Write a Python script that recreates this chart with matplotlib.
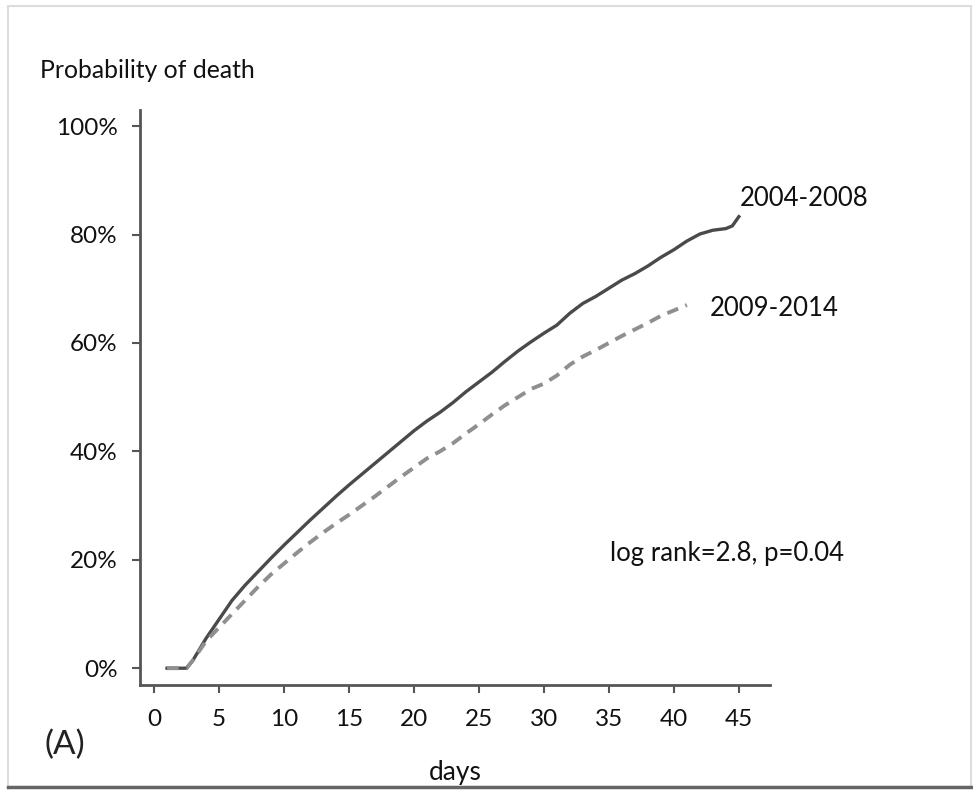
import matplotlib.pyplot as plt
from matplotlib.patches import Rectangle
from matplotlib.ticker import FuncFormatter

plt.rcParams['font.family'] = ['Lato', 'DejaVu Sans']

# Kaplan-Meier style cumulative probability of death (%)
days_0408 = [1, 2.5, 3, 4, 5, 6, 7, 8, 9, 10, 11, 12, 13, 14, 15, 16, 17, 18, 19, 20,
             21, 22, 23, 24, 25, 26, 27, 28, 29, 30, 31, 32, 33, 34, 35, 36, 37, 38,
             39, 40, 41, 42, 43, 44, 44.5, 45]
prob_0408 = [0, 0, 1.5, 5.5, 9, 12.5, 15.3, 17.8, 20.3, 22.7, 25, 27.3, 29.5, 31.7, 33.8,
             35.8, 37.8, 39.8, 41.8, 43.8, 45.6, 47.2, 49, 51, 52.8, 54.6, 56.6, 58.5,
             60.2, 61.8, 63.3, 65.5, 67.3, 68.6, 70.1, 71.6, 72.8, 74.2, 75.8, 77.2,
             78.8, 80.1, 80.8, 81.1, 81.6, 83.3]

days_0914 = [1, 2.5, 3, 4, 5, 6, 7, 8, 9, 10, 11, 12, 13, 14, 15, 16, 17, 18, 19, 20,
             21, 22, 23, 24, 25, 26, 27, 28, 29, 30, 31, 32, 33, 34, 35, 36, 37, 38,
             39, 40, 41]
prob_0914 = [0, 0, 1.5, 5, 7.5, 10, 12.5, 15, 17.3, 19.3, 21.3, 23.2, 25, 26.7, 28.3,
             30, 31.7, 33.5, 35.3, 37, 38.7, 40, 41.5, 43.3, 45, 46.8, 48.5, 50, 51.5,
             52.5, 54, 56, 57.5, 58.7, 60, 61.3, 62.5, 63.7, 65, 66, 67]

x_ticks = [0, 5, 10, 15, 20, 25, 30, 35, 40, 45]
y_ticks = [0, 20, 40, 60, 80, 100]

fig = plt.figure(figsize=(9.73, 7.90), dpi=100)
ax = fig.add_axes([0.1439, 0.1329, 0.6475, 0.728])

ax.plot(days_0408, prob_0408, color='#4a4a4a', lw=2.4)
ax.plot(days_0914, prob_0914, color='#8f8f8f', lw=2.8, dashes=(3, 2))

ax.set_xlim(-1.08, 47.4)
ax.set_ylim(-3.1, 103)
ax.set_xticks(x_ticks)
ax.set_yticks(y_ticks)
ax.yaxis.set_major_formatter(FuncFormatter(lambda v, p: f'{v:.0f}%'))

for s in ['top', 'right']:
    ax.spines[s].set_visible(False)
for s in ['left', 'bottom']:
    ax.spines[s].set_color('#555555')
    ax.spines[s].set_linewidth(2)
ax.tick_params(axis='both', colors='#555555', labelcolor='#111111', labelsize=17.5,
               length=6, width=1.5)
ax.tick_params(axis='y', pad=10)
ax.tick_params(axis='x', pad=11)

ax.set_xlabel('days', fontsize=19, color='#111111', labelpad=22)

fig.text(40 / 973, 1 - 70 / 790, 'Probability of death', fontsize=17.8, color='#111111',
         va='center', ha='left')
fig.text(45 / 973, 1 - 745 / 790, '(A)', fontsize=24, color='#222222', va='center', ha='left')
fig.text(740 / 973, 1 - 198 / 790, '2004-2008', fontsize=18.5, color='#111111',
         va='center', ha='left')
fig.text(710 / 973, 1 - 308 / 790, '2009-2014', fontsize=18.5, color='#111111',
         va='center', ha='left')
fig.text(610 / 973, 1 - 553 / 790, 'log rank=2.8, p=0.04', fontsize=18.5, color='#111111',
         va='center', ha='left')

# image frame
fig.add_artist(Rectangle((8 / 973, 3 / 790), 1 - 10 / 973, 1 - 9 / 790,
                         transform=fig.transFigure, fill=False, edgecolor='#dddddd', lw=1.5))
fig.add_artist(plt.Line2D([8 / 973, 1], [3 / 790, 3 / 790], transform=fig.transFigure,
                          color='#666666', lw=2.5))

fig.savefig('out.png', dpi=100)
